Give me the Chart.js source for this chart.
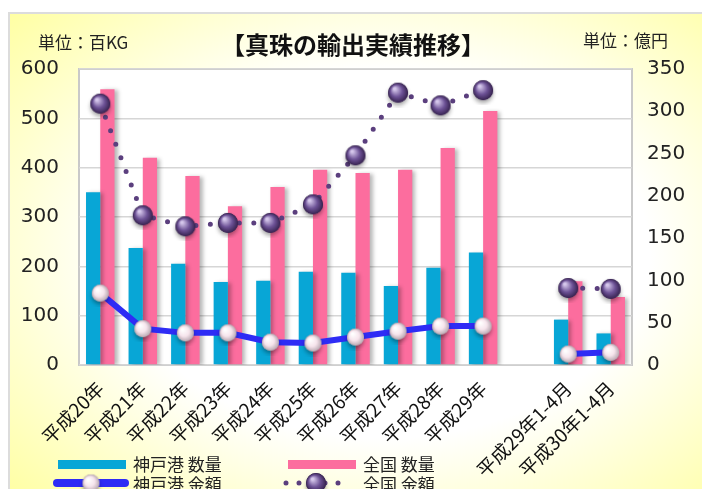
<!DOCTYPE html>
<html lang="ja">
<head>
<meta charset="utf-8">
<script src="https://cdn.jsdelivr.net/npm/chart.js@4.4.1/dist/chart.umd.min.js"></script>
<style>
  html, body { margin: 0; padding: 0; background: #fff; }
  #wrap { position: relative; width: 702px; height: 489px; overflow: hidden; font-family: 'Noto Sans CJK JP', sans-serif; color: #222; }
  #frame { position: absolute; left: 8px; top: 12px; width: 720px; height: 500px; border: 2px solid #dcdcdc;
           background: radial-gradient(ellipse farthest-corner at 52% 48%, #ffffff 50%, #ffff9c 100%); }
  #chart { position: absolute; left: 0; top: 0; }
  .txt { position: absolute; white-space: nowrap; line-height: 1; }
  #title { left: 221px; top: 32px; font-size: 24px; font-weight: bold; color: #111; }
  #unitL { left: 38px; top: 33px; font-size: 17px; }
  #unitR { left: 583px; top: 31px; font-size: 17px; }
  .lg { position: absolute; font-size: 17px; line-height: 1; white-space: nowrap; }
  .sw { position: absolute; }
</style>
</head>
<body>
<div id="wrap">
  <div id="frame"></div>
  <canvas id="chart" width="702" height="489"></canvas>
  <div class="txt" id="title">【真珠の輸出実績推移】</div>
  <div class="txt" id="unitL">単位：百KG</div>
  <div class="txt" id="unitR">単位：億円</div>
  <div id="legend"></div>
</div>
<script>
// データ
const categories = ['平成20年', '平成21年', '平成22年', '平成23年', '平成24年', '平成25年', '平成26年', '平成27年', '平成28年', '平成29年', '', '平成29年1-4月', '平成30年1-4月'];
const kobeQty = [350, 237, 205, 168, 171, 189, 187, 160, 197, 228, null, 92, 64];
const zenkokuQty = [559, 420, 383, 322, 361, 396, 389, 396, 440, 515, null, 170, 138];
const kobeAmount = [85, 43, 38, 38, 27, 26, 33, 40, 46, 46, null, 13, 15];
const zenkokuAmount = [309, 177, 164, 168, 168, 190, 248, 322, 307, 325, null, 91, 90];

const FONT = "'Noto Sans CJK JP', sans-serif";
const NUM_FONT = "'DejaVu Sans', sans-serif";
const CYAN = '#08a6d6';
const PINK = '#fc6d9e';
const BLUE = '#2e2cf5';
const PURPLE = '#5b3f7e';

// 球体マーカーを作る
function makeSphere(r, light, mid, dark) {
  const size = r * 2 + 10;
  const c = document.createElement('canvas');
  c.width = size; c.height = size;
  const ctx = c.getContext('2d');
  const cx = size / 2, cy = size / 2;
  ctx.save();
  ctx.shadowColor = 'rgba(0,0,0,0.35)';
  ctx.shadowBlur = 4;
  ctx.shadowOffsetY = 3;
  ctx.beginPath();
  ctx.arc(cx, cy, r, 0, Math.PI * 2);
  ctx.fillStyle = dark;
  ctx.fill();
  ctx.restore();
  const g = ctx.createRadialGradient(cx - r * 0.35, cy - r * 0.4, r * 0.1, cx, cy, r);
  g.addColorStop(0, light);
  g.addColorStop(0.55, mid);
  g.addColorStop(1, dark);
  ctx.beginPath();
  ctx.arc(cx, cy, r, 0, Math.PI * 2);
  ctx.fillStyle = g;
  ctx.fill();
  return c;
}

const pearl = makeSphere(8.5, '#ffffff', '#f6e4ec', '#b9a9b2');
const purpleBall = makeSphere(10, '#d6c8ec', '#6d5296', '#36224f');

// プロットエリア背景と枠
const plotBg = {
  id: 'plotBg',
  beforeDraw(chart) {
    const { ctx, chartArea: a } = chart;
    ctx.save();
    ctx.fillStyle = '#ffffff';
    ctx.fillRect(a.left, a.top, a.right - a.left, a.bottom - a.top);
    ctx.strokeStyle = '#c9c9c9';
    ctx.lineWidth = 2;
    ctx.strokeRect(a.left, a.top, a.right - a.left, a.bottom - a.top);
    ctx.restore();
  }
};

// 棒の影
const barShadow = {
  id: 'barShadow',
  beforeDatasetDraw(chart, args) {
    if (args.meta.type !== 'bar') return;
    const ctx = chart.ctx;
    ctx.save();
    ctx.shadowColor = 'rgba(0,0,0,0.28)';
    ctx.shadowBlur = 4;
    ctx.shadowOffsetX = 3;
    ctx.shadowOffsetY = 1;
  },
  afterDatasetDraw(chart, args) {
    if (args.meta.type !== 'bar') return;
    chart.ctx.restore();
  }
};

new Chart(document.getElementById('chart'), {
  type: 'bar',
  data: {
    labels: categories,
    datasets: [
      { label: '神戸港 金額', type: 'line', data: kobeAmount, yAxisID: 'y1', order: 0,
        borderColor: BLUE, borderWidth: 6, pointStyle: pearl, pointRadius: 9, spanGaps: false, tension: 0 },
      { label: '全国 金額', type: 'line', data: zenkokuAmount, yAxisID: 'y1', order: 0,
        borderColor: PURPLE, borderWidth: 5, borderDash: [0, 14.5], borderCapStyle: 'round',
        pointStyle: purpleBall, pointRadius: 10, spanGaps: false, tension: 0 },
      { label: '神戸港 数量', data: kobeQty, backgroundColor: CYAN, yAxisID: 'y', order: 1,
        categoryPercentage: 0.67, barPercentage: 1.0 },
      { label: '全国 数量', data: zenkokuQty, backgroundColor: PINK, yAxisID: 'y', order: 1,
        categoryPercentage: 0.67, barPercentage: 1.0 }
    ]
  },
  options: {
    responsive: false,
    animation: false,
    devicePixelRatio: 1,
    layout: { padding: { top: 69, left: 0, right: 0, bottom: 0 } },
    plugins: { legend: { display: false }, tooltip: { enabled: false }, title: { display: false } },
    scales: {
      x: {
        grid: { display: false },
        border: { display: false },
        ticks: { font: { family: FONT, size: 19 }, color: '#111', minRotation: 45, maxRotation: 45, autoSkip: false, padding: 4 },
        afterFit(scale) { scale.height = 124; }
      },
      y: {
        position: 'left', min: 0, max: 600,
        grid: { color: '#d6d6d6', lineWidth: 1.5, drawTicks: false },
        border: { display: false },
        ticks: { stepSize: 100, font: { family: NUM_FONT, size: 20 }, color: '#222', padding: 20 },
        afterFit(scale) { scale.width = 79; }
      },
      y1: {
        position: 'right', min: 0, max: 350,
        grid: { display: false, drawTicks: false },
        border: { display: false },
        ticks: { stepSize: 50, font: { family: NUM_FONT, size: 20 }, color: '#222', padding: 15 },
        afterFit(scale) { scale.width = 70; }
      }
    }
  },
  plugins: [plotBg, barShadow]
});

// 凡例 (HTML)
const legend = document.getElementById('legend');
function addBox(x, y, w, h, color) {
  const d = document.createElement('div');
  d.className = 'sw';
  Object.assign(d.style, { left: x + 'px', top: y + 'px', width: w + 'px', height: h + 'px', background: color });
  legend.appendChild(d);
}
function addText(x, y, t) {
  const d = document.createElement('div');
  d.className = 'lg';
  d.style.left = x + 'px';
  d.style.top = y + 'px';
  d.textContent = t;
  legend.appendChild(d);
}
function addLineSwatch(x, y, w, kind) {
  const c = document.createElement('canvas');
  c.width = w; c.height = 30;
  c.className = 'sw';
  c.style.left = x + 'px';
  c.style.top = (y - 15) + 'px';
  const ctx = c.getContext('2d');
  ctx.lineCap = 'round';
  if (kind === 'kobe') {
    ctx.strokeStyle = BLUE; ctx.lineWidth = 8;
    ctx.beginPath(); ctx.moveTo(5, 15); ctx.lineTo(w - 5, 15); ctx.stroke();
    ctx.drawImage(pearl, w / 2 - pearl.width / 2, 15 - pearl.height / 2);
  } else {
    ctx.strokeStyle = PURPLE; ctx.lineWidth = 5;
    ctx.setLineDash([0, 13]);
    ctx.beginPath(); ctx.moveTo(4, 15); ctx.lineTo(w - 4, 15); ctx.stroke();
    ctx.drawImage(purpleBall, w / 2 - purpleBall.width / 2, 15 - purpleBall.height / 2);
  }
  legend.appendChild(c);
}
addBox(58, 460, 68, 9, CYAN);
addText(133, 455, '神戸港 数量');
addBox(288, 460, 68, 9, PINK);
addText(363, 455, '全国 数量');
addLineSwatch(52, 483, 78, 'kobe');
addText(133, 475, '神戸港 金額');
addLineSwatch(282, 483, 68, 'zenkoku');
addText(363, 475, '全国 金額');
</script>
</body>
</html>
